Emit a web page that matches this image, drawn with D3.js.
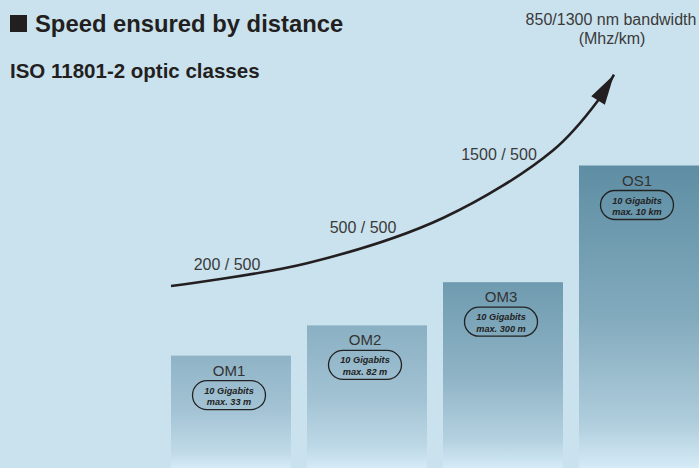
<!DOCTYPE html>
<html>
<head>
<meta charset="utf-8">
<script src="https://cdn.jsdelivr.net/npm/d3@7"></script>
<style>
  html, body { margin: 0; padding: 0; background: #cae2ee; }
  svg { display: block; font-family: "Liberation Sans", Arial, Helvetica, sans-serif; }
</style>
</head>
<body>
<svg id="chart" width="699" height="468"></svg>
<script>
// Fibre classes and their guaranteed 10 Gbit/s reach
const classes = ["OM1", "OM2", "OM3", "OS1"];
const reachMeters = [33, 82, 300, 10000];
const reachLabels = ["max. 33 m", "max. 82 m", "max. 300 m", "max. 10 km"];
const speedLabels = ["10 Gigabits", "10 Gigabits", "10 Gigabits", "10 Gigabits"];

// Modal bandwidth (MHz·km) at 850 / 1300 nm for the multimode classes
const bandwidthClasses = ["OM1", "OM2", "OM3"];
const bandwidth850 = [200, 500, 1500];
const bandwidth1300 = [500, 500, 500];

// Trend arrow: position along the class axis and bandwidth level
const trendPos = [0, 1, 2, 2.81, 3.14, 3.257];
const trendLevel = [200, 500, 1500, 4000, 6600, 8200];

// Bar shading, top colour per class
const barTopColors = ["#8fb3c6", "#8ab0c3", "#6f9bb0", "#5e8ea4"];
const barBottomColor = "#d5ebf7";

const W = 699, H = 468;
const svg = d3.select("#chart");

const x = d3.scaleBand()
  .domain(classes)
  .range([171, 699])
  .paddingInner(16 / 136)
  .paddingOuter(0);

// Reach on a log scale
const y = d3.scaleLog().domain([1, 10000]).range([472, 165.5]);

// Continuous position along the class axis (0 = first bar's left edge)
const xPos = d3.scaleLinear().domain([0, 1]).range([x(classes[0]), x(classes[1])]);
// Bandwidth level for the trend curve and its labels
const yTrend = d3.scaleSqrt().domain([200, 1500]).range([286, 218]);
const yLabel = d3.scaleSqrt().domain([200, 1500]).range([270, 160]);

// Gradients: dark at the bar top, fading to pale blue at the bottom
const defs = svg.append("defs");
const gradStops = [[0, 0], [0.5, 0.3], [0.85, 0.68], [1, 1]];
classes.forEach((c, i) => {
  const g = defs.append("linearGradient")
    .attr("id", "grad-" + c)
    .attr("x1", 0).attr("y1", 0).attr("x2", 0).attr("y2", 1);
  const mix = d3.interpolateRgb(barTopColors[i], barBottomColor);
  gradStops.forEach(([o, t]) => {
    g.append("stop").attr("offset", o * 100 + "%").attr("stop-color", mix(t));
  });
});

// Bars
const bars = svg.append("g").selectAll("g.bar")
  .data(classes.map((c, i) => ({ c, reach: reachMeters[i], speed: speedLabels[i], label: reachLabels[i] })))
  .join("g").attr("class", "bar");

bars.append("rect")
  .attr("x", d => x(d.c))
  .attr("y", d => y(d.reach))
  .attr("width", x.bandwidth())
  .attr("height", d => H - y(d.reach))
  .attr("fill", d => "url(#grad-" + d.c + ")");

bars.append("text")
  .attr("x", d => x(d.c) + x.bandwidth() / 2 - 2)
  .attr("y", d => y(d.reach) + 20)
  .attr("text-anchor", "middle")
  .attr("font-size", 15)
  .attr("fill", "#333")
  .text(d => d.c);

const pillW = 73, pillH = 29;
bars.append("rect")
  .attr("x", d => x(d.c) + x.bandwidth() / 2 - 2 - pillW / 2)
  .attr("y", d => y(d.reach) + 25)
  .attr("width", pillW)
  .attr("height", pillH)
  .attr("rx", pillH / 2)
  .attr("ry", pillH / 2)
  .attr("fill", "none")
  .attr("stroke", "#222")
  .attr("stroke-width", 1.3);

bars.append("text")
  .attr("x", d => x(d.c) + x.bandwidth() / 2 - 2)
  .attr("y", d => y(d.reach) + 38)
  .attr("text-anchor", "middle")
  .attr("font-size", 9.2)
  .attr("font-weight", "bold")
  .attr("font-style", "italic")
  .attr("fill", "#222")
  .text(d => d.speed);

bars.append("text")
  .attr("x", d => x(d.c) + x.bandwidth() / 2 - 2)
  .attr("y", d => y(d.reach) + 49.5)
  .attr("text-anchor", "middle")
  .attr("font-size", 9.2)
  .attr("font-weight", "bold")
  .attr("font-style", "italic")
  .attr("fill", "#222")
  .text(d => d.label);

// Trend arrow
const pts = trendPos.map((p, i) => [xPos(p), yTrend(trendLevel[i])]);
svg.append("path")
  .attr("d", d3.line().curve(d3.curveCatmullRom.alpha(0.5))(pts))
  .attr("fill", "none")
  .attr("stroke", "#231f20")
  .attr("stroke-width", 2.6);

const tip = pts[pts.length - 1], base = pts[pts.length - 2];
const dx = tip[0] - base[0], dy = tip[1] - base[1];
const len = Math.hypot(dx, dy);
const nx = -dy / len, ny = dx / len, hw = 8;
svg.append("path")
  .attr("d", `M${tip[0]},${tip[1]}L${base[0] + nx * hw},${base[1] + ny * hw}L${base[0] - nx * hw},${base[1] - ny * hw}Z`)
  .attr("fill", "#231f20");

// Bandwidth labels along the arrow
svg.append("g").selectAll("text")
  .data(bandwidthClasses.map((c, i) => ({ c, a: bandwidth850[i], b: bandwidth1300[i] })))
  .join("text")
  .attr("x", d => x(d.c) + x.bandwidth() / 2 - 4)
  .attr("y", d => yLabel(d.a))
  .attr("text-anchor", "middle")
  .attr("font-size", 16)
  .attr("fill", "#3a3a3a")
  .text(d => `${d.a} / ${d.b}`);

// Axis caption
const cap = svg.append("text")
  .attr("text-anchor", "middle")
  .attr("font-size", 16)
  .attr("fill", "#3a3a3a");
cap.append("tspan").attr("x", 611).attr("y", 25).text("850/1300 nm bandwidth");
cap.append("tspan").attr("x", 612).attr("y", 43.5).text("(Mhz/km)");

// Titles
svg.append("rect").attr("x", 10).attr("y", 15).attr("width", 17).attr("height", 17).attr("fill", "#231f20");
svg.append("text")
  .attr("x", 35).attr("y", 32)
  .attr("font-size", 23.8)
  .attr("font-weight", "bold")
  .attr("fill", "#231f20")
  .text("Speed ensured by distance");
svg.append("text")
  .attr("x", 10).attr("y", 77.5)
  .attr("font-size", 20.5)
  .attr("font-weight", "bold")
  .attr("fill", "#231f20")
  .text("ISO 11801-2 optic classes");
</script>
</body>
</html>
